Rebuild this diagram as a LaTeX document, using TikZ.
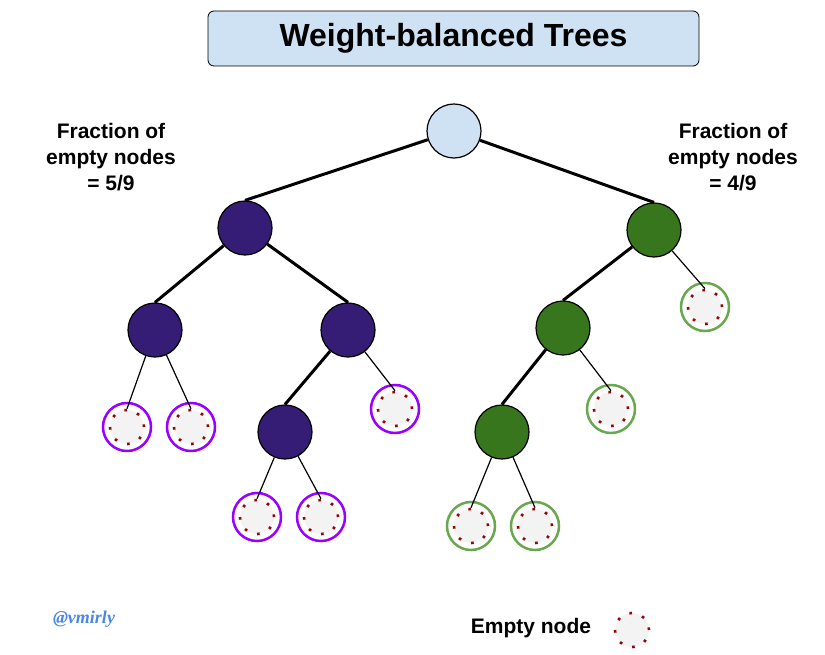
\documentclass[tikz,border=0pt]{standalone}
\usepackage{fontspec}
\setmainfont{Liberation Sans}
\newfontfamily\handfont{Liberation Serif}
\usepackage{tikz}
\usetikzlibrary{positioning}
\definecolor{titleblue}{HTML}{CFE2F3}
\definecolor{treepurple}{HTML}{351C75}
\definecolor{treegreen}{HTML}{38761D}
\definecolor{ringpurple}{HTML}{9900FF}
\definecolor{ringgreen}{HTML}{6AA84F}
\definecolor{emptygray}{HTML}{F3F3F3}
\definecolor{dotred}{HTML}{990000}
\definecolor{handleblue}{HTML}{4A86E8}

\begin{document}
\begin{tikzpicture}[x=1pt,y=-1pt,
		every node/.style={font=\bfseries},
		full/.style={circle,draw=black,line width=1.2pt,minimum size=54pt,inner sep=0pt},
		purplenode/.style={full,fill=treepurple},
		greennode/.style={full,fill=treegreen},
		emptynode/.style={circle,fill=emptygray,draw=dotred,line width=2.6pt,dash pattern=on 2.6pt off 10.75pt,minimum size=34pt,inner sep=0pt},
		ring/.style={circle,draw=#1,line width=2.5pt,minimum size=48pt,inner sep=0pt},
		heavy/.style={line width=3pt},
		light/.style={line width=1.2pt}]

		\useasboundingbox (0,0) rectangle (825,655);

		\node [draw,line width=0.8pt,rounded corners=6pt,fill=titleblue,minimum width=491pt,minimum height=55pt,
			font=\fontsize{32}{36}\selectfont\bfseries] (title) at (453.5,38.5) {Weight-balanced Trees};

		\node [align=center,font=\fontsize{21}{26}\selectfont\bfseries] (fracl) at (111,157) {Fraction of\\empty nodes\\= 5/9};
		\node [align=center,font=\fontsize{21}{26}\selectfont\bfseries] (fracr) at (733,157) {Fraction of\\empty nodes\\= 4/9};

		\node [full,fill=titleblue] (root) at (454,131) {};
		\node [purplenode] (l) at (245,228) {};
		\node [purplenode] (ll) at (155,330) {};
		\node [purplenode] (lr) at (348,330) {};
		\node [purplenode] (lrl) at (285,432) {};
		\node [greennode] (r) at (654,230) {};
		\node [greennode] (rl) at (563,328) {};
		\node [greennode] (rll) at (502,432) {};

		\foreach \n/\x/\y/\c in {lla/127/427/ringpurple,llb/191/427/ringpurple,lrr/395/409/ringpurple,
				lrla/257/517/ringpurple,lrlb/321/517/ringpurple,rr/705/307/ringgreen,rlr/611/409/ringgreen,
				rlla/471/526/ringgreen,rllb/535/526/ringgreen}{
			\node [ring=\c] (\n ring) at (\x,\y) {};
			\node [emptynode] (\n) at (\x,\y) {};
		}

		\draw [heavy] (root) -- (l.north);
		\draw [heavy] (root) -- (r.north);
		\draw [heavy] (l) -- (ll.north);
		\draw [heavy] (l) -- (lr.north);
		\draw [heavy] (lr) -- (lrl.north);
		\draw [heavy] (r) -- (rl.north);
		\draw [heavy] (rl) -- (rll.north);

		\draw [light] (ll) -- (lla.north);
		\draw [light] (ll) -- (llb.north);
		\draw [light] (lr) -- (lrr.north);
		\draw [light] (lrl) -- (lrla.north);
		\draw [light] (lrl) -- (lrlb.north);
		\draw [light] (r) -- (rr.north);
		\draw [light] (rl) -- (rlr.north);
		\draw [light] (rll) -- (rlla.north);
		\draw [light] (rll) -- (rllb.north);

		\node [text=handleblue,font=\handfont\bfseries\itshape\fontsize{18}{20}\selectfont] (handle) at (84,619) {@vmirly};
		\node [font=\fontsize{21}{24}\selectfont\bfseries] (legtext) at (531,628) {Empty node};
		\node [emptynode] (legempty) at (632,630) {};

\end{tikzpicture}
\end{document}
